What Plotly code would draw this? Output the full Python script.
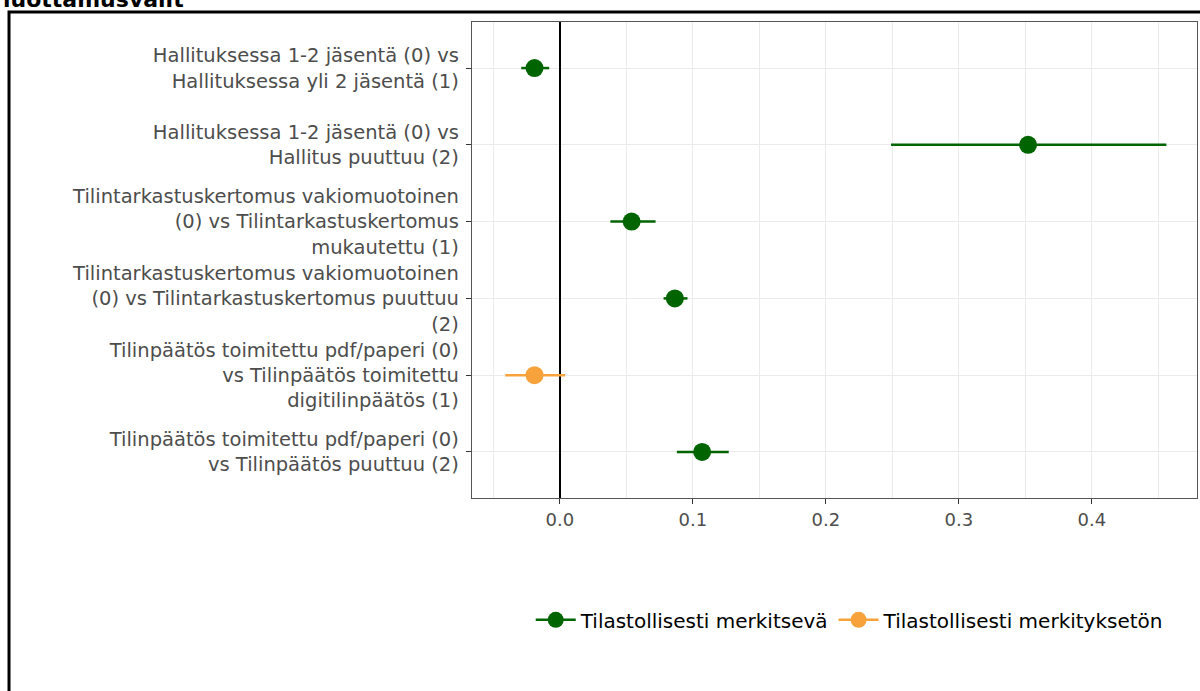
import plotly.graph_objects as go

labels = [
    "Hallituksessa 1-2 jäsentä (0) vs<br>Hallituksessa yli 2 jäsentä (1)",
    "Hallituksessa 1-2 jäsentä (0) vs<br>Hallitus puuttuu (2)",
    "Tilintarkastuskertomus vakiomuotoinen<br>(0) vs Tilintarkastuskertomus<br>mukautettu (1)",
    "Tilintarkastuskertomus vakiomuotoinen<br>(0) vs Tilintarkastuskertomus puuttuu<br>(2)",
    "Tilinpäätös toimitettu pdf/paperi (0)<br>vs Tilinpäätös toimitettu<br>digitilinpäätös (1)",
    "Tilinpäätös toimitettu pdf/paperi (0)<br>vs Tilinpäätös puuttuu (2)",
]
estimate = [-0.019, 0.352, 0.054, 0.0865, -0.019, 0.107]
ci_low = [-0.029, 0.249, 0.038, 0.078, -0.041, 0.088]
ci_high = [-0.008, 0.456, 0.072, 0.096, 0.004, 0.127]
significant = [True, True, True, True, False, True]

group_names = ["Tilastollisesti merkitsevä", "Tilastollisesti merkityksetön"]
group_colors = ["#006400", "#F8A23C"]

fig = go.Figure()
for gi, (gname, gcol) in enumerate(zip(group_names, group_colors)):
    want = (gi == 0)
    idx = [i for i, s in enumerate(significant) if s == want]
    xs = [estimate[i] for i in idx]
    ys = [labels[i] for i in idx]
    plus = [ci_high[i] - estimate[i] for i in idx]
    minus = [estimate[i] - ci_low[i] for i in idx]
    fig.add_trace(go.Scatter(
        x=xs, y=ys, mode="markers",
        marker=dict(color=gcol, size=18),
        error_x=dict(type="data", array=plus, arrayminus=minus, symmetric=False,
                     color=gcol, thickness=2.5, width=0),
        showlegend=False, legendgroup=gname,
    ))
    fig.add_trace(go.Scatter(
        x=[None], y=[None], mode="lines+markers", name=gname,
        line=dict(color=gcol, width=2.5),
        marker=dict(color=gcol, size=16),
        legendgroup=gname, showlegend=True,
    ))

grid = "#EBEBEB"
fig.update_layout(
    width=1200, height=691,
    margin=dict(l=472, r=3, t=22, b=193),
    paper_bgcolor="white", plot_bgcolor="white",
    font=dict(family="DejaVu Sans", size=18, color="#4D4D4D"),
    xaxis=dict(
        range=[-0.066, 0.479],
        tickvals=[0.0, 0.1, 0.2, 0.3, 0.4],
        ticktext=["0.0", "0.1", "0.2", "0.3", "0.4"],
        showgrid=True, gridcolor=grid, gridwidth=1.3,
        minor=dict(dtick=0.05, tick0=0, showgrid=True, gridcolor=grid, gridwidth=0.8),
        zeroline=True, zerolinecolor="black", zerolinewidth=2.2,
        showline=True, linecolor="#555555", linewidth=1.4, mirror=True,
        ticks="outside", ticklen=5, tickcolor="#333333", tickwidth=1.2,
        tickfont=dict(family="DejaVu Sans", size=18, color="#4D4D4D"),
    ),
    yaxis=dict(
        categoryorder="array", categoryarray=labels,
        range=[5.6, -0.6],
        showgrid=True, gridcolor=grid, gridwidth=1.3,
        showline=True, linecolor="#555555", linewidth=1.4, mirror=True,
        ticks="outside", ticklen=5, tickcolor="#333333", tickwidth=1.2,
        tickfont=dict(family="DejaVu Sans", size=19.5, color="#4D4D4D"),
        ticklabelstandoff=3,
    ),
    legend=dict(
        orientation="h", x=0.521, xanchor="center", y=-0.256, yanchor="middle",
        font=dict(family="DejaVu Sans", size=20, color="black"),
        itemwidth=40, bgcolor="rgba(0,0,0,0)",
    ),
    showlegend=True,
)

fig.add_shape(type="rect", xref="paper", yref="paper",
              x0=-0.6386, x1=1.05, y0=-0.45, y1=1.021,
              line=dict(color="black", width=3), fillcolor="rgba(0,0,0,0)", layer="above")

fig.add_annotation(text="<b>luottamusvälit</b>", xref="paper", yref="paper",
                   x=-0.394, y=1.048, xanchor="right", yanchor="middle",
                   showarrow=False,
                   font=dict(family="DejaVu Sans", size=22, color="black"))

fig.write_html("out.html", config={"displayModeBar": False},
               post_script="document.body.style.margin='0';document.body.style.overflow='hidden';")
